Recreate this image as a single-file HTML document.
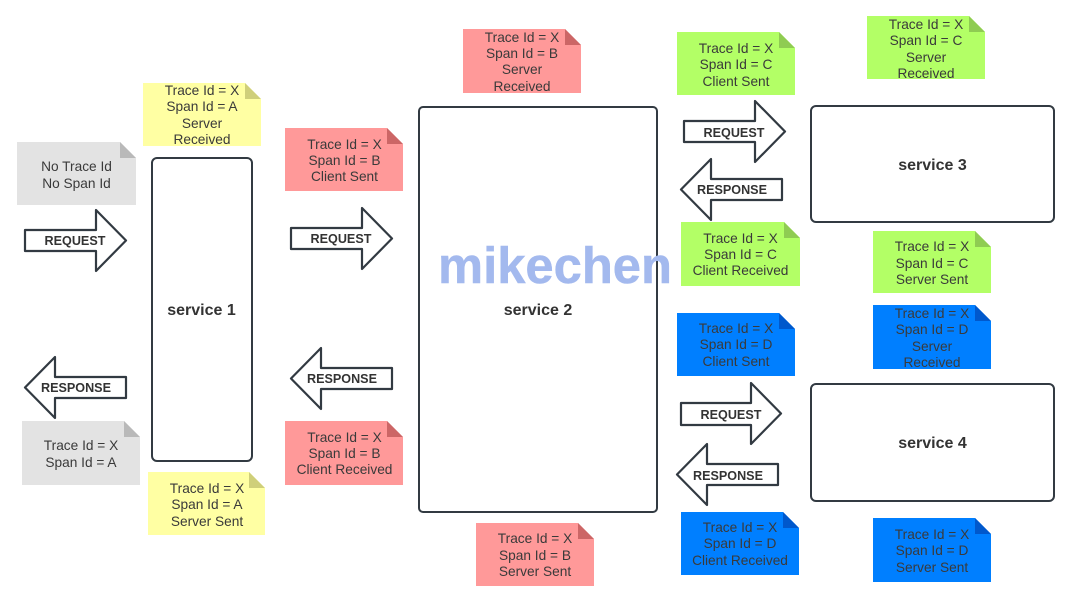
<!DOCTYPE html>
<html><head><meta charset="utf-8"><style>
html,body{margin:0;padding:0;background:#fff;width:1080px;height:615px;overflow:hidden}
svg{display:block}
text{font-family:"Liberation Sans",sans-serif;text-anchor:middle}
.n text{font-size:13.7px;fill:#3a3a3a}
.b{fill:#fff;stroke:#323a42;stroke-width:2}
.a{fill:#fff;stroke:#323a42;stroke-width:2.2;stroke-linejoin:round}
.l{font-size:12.6px;font-weight:bold;fill:#333}
.s{font-size:16px;font-weight:bold;fill:#333}
.gr{fill:#e3e3e3}.grf{fill:#b9b9b9}
.y{fill:#ffffa3}.yf{fill:#cfcf7a}
.p{fill:#ff9999}.pf{fill:#cc6666}
.g{fill:#b3ff66}.gf{fill:#8fcc52}
.u{fill:#007fff}.uf{fill:#0058cc}
</style></head><body>
<svg width="1080" height="615" viewBox="0 0 1080 615" xmlns="http://www.w3.org/2000/svg">
<rect width="1080" height="615" fill="#fff"/>

<rect class="b" x="152" y="158" width="100" height="303" rx="5"/>
<rect class="b" x="419" y="107" width="238" height="405" rx="4"/>
<rect class="b" x="811" y="106" width="243" height="116" rx="5"/>
<rect class="b" x="811" y="384" width="243" height="117" rx="5"/>
<text class="s" x="201.500" y="315">service 1</text>
<text class="s" x="538" y="315">service 2</text>
<text class="s" x="932.500" y="170">service 3</text>
<text class="s" x="932.500" y="448">service 4</text>

<path class="a" d="M25 230H96V210L126 240.500 96 271V251H25Z"/>
<text class="l" x="75" y="245">REQUEST</text>
<path class="a" d="M291 228H362V208L392 238.500 362 269V249H291Z"/>
<text class="l" x="341" y="243">REQUEST</text>
<path class="a" d="M684 121H755V101L785 131.500 755 162V142H684Z"/>
<text class="l" x="734" y="137">REQUEST</text>
<path class="a" d="M681 403H751V383L781 413.500 751 444V425H681Z"/>
<text class="l" x="731" y="419">REQUEST</text>

<path class="a" d="M126 377H55V357L25 387.500 55 418V398H126Z"/>
<text class="l" x="76" y="392">RESPONSE</text>
<path class="a" d="M392 368H321V348L291 378.500 321 409V389H392Z"/>
<text class="l" x="342" y="383">RESPONSE</text>
<path class="a" d="M782 179H711V159L681 189.500 711 220V200H782Z"/>
<text class="l" x="732" y="194">RESPONSE</text>
<path class="a" d="M778 464H707V444L677 474.500 707 505V485H778Z"/>
<text class="l" x="728" y="480">RESPONSE</text>

<g class="n">
<path class="gr" d="M17 142H120L136 158V205H17Z"/><path class="grf" d="M120 142L136 158H120Z"/>
<text x="76.500" y="171">No Trace Id</text><text x="76.500" y="188">No Span Id</text>

<path class="y" d="M143 83H245L261 99V146H143Z"/><path class="yf" d="M245 83L261 99H245Z"/>
<text x="202" y="95">Trace Id = X</text><text x="202" y="111">Span Id = A</text><text x="202" y="128">Server</text><text x="202" y="144">Received</text>

<path class="p" d="M285 128H387L403 144V191H285Z"/><path class="pf" d="M387 128L403 144H387Z"/>
<text x="344.500" y="149">Trace Id = X</text><text x="344.500" y="165">Span Id = B</text><text x="344.500" y="181">Client Sent</text>

<path class="p" d="M463 29H565L581 45V93H463Z"/><path class="pf" d="M565 29L581 45H565Z"/>
<text x="522" y="42">Trace Id = X</text><text x="522" y="58">Span Id = B</text><text x="522" y="74">Server</text><text x="522" y="91">Received</text>

<path class="g" d="M677 32H779L795 48V95H677Z"/><path class="gf" d="M779 32L795 48H779Z"/>
<text x="736" y="53">Trace Id = X</text><text x="736" y="69">Span Id = C</text><text x="736" y="86">Client Sent</text>

<path class="g" d="M867 16H969L985 32V79H867Z"/><path class="gf" d="M969 16L985 32H969Z"/>
<text x="926" y="29">Trace Id = X</text><text x="926" y="45">Span Id = C</text><text x="926" y="62">Server</text><text x="926" y="78">Received</text>

<path class="g" d="M681 222H784L800 238V286H681Z"/><path class="gf" d="M784 222L800 238H784Z"/>
<text x="740.500" y="243">Trace Id = X</text><text x="740.500" y="259">Span Id = C</text><text x="740.500" y="275">Client Received</text>

<path class="g" d="M873 231H975L991 247V293H873Z"/><path class="gf" d="M975 231L991 247H975Z"/>
<text x="932" y="251">Trace Id = X</text><text x="932" y="268">Span Id = C</text><text x="932" y="284">Server Sent</text>

<path class="u" d="M677 313H779L795 329V376H677Z"/><path class="uf" d="M779 313L795 329H779Z"/>
<text x="736" y="333">Trace Id = X</text><text x="736" y="349">Span Id = D</text><text x="736" y="366">Client Sent</text>

<path class="u" d="M873 305H975L991 321V369H873Z"/><path class="uf" d="M975 305L991 321H975Z"/>
<text x="932" y="318">Trace Id = X</text><text x="932" y="334">Span Id = D</text><text x="932" y="351">Server</text><text x="932" y="367">Received</text>

<path class="p" d="M285 421H387L403 437V485H285Z"/><path class="pf" d="M387 421L403 437H387Z"/>
<text x="344.500" y="442">Trace Id = X</text><text x="344.500" y="458">Span Id = B</text><text x="344.500" y="474">Client Received</text>

<path class="p" d="M476 523H578L594 539V586H476Z"/><path class="pf" d="M578 523L594 539H578Z"/>
<text x="535" y="543">Trace Id = X</text><text x="535" y="560">Span Id = B</text><text x="535" y="576">Server Sent</text>

<path class="y" d="M148 472H249L265 488V535H148Z"/><path class="yf" d="M249 472L265 488H249Z"/>
<text x="207" y="493">Trace Id = X</text><text x="207" y="509">Span Id = A</text><text x="207" y="526">Server Sent</text>

<path class="gr" d="M22 421H124L140 437V485H22Z"/><path class="grf" d="M124 421L140 437H124Z"/>
<text x="81" y="450">Trace Id = X</text><text x="81" y="467">Span Id = A</text>

<path class="u" d="M681 512H783L799 528V575H681Z"/><path class="uf" d="M783 512L799 528H783Z"/>
<text x="740" y="532">Trace Id = X</text><text x="740" y="548">Span Id = D</text><text x="740" y="565">Client Received</text>

<path class="u" d="M873 518H975L991 534V582H873Z"/><path class="uf" d="M975 518L991 534H975Z"/>
<text x="932" y="539">Trace Id = X</text><text x="932" y="555">Span Id = D</text><text x="932" y="572">Server Sent</text>
</g>

<text x="555" y="283" font-size="51" font-weight="bold" fill="#a3b9ee" stroke="#a3b9ee" stroke-width="0.5" textLength="234" lengthAdjust="spacingAndGlyphs">mikechen</text>
</svg>
</body></html>
